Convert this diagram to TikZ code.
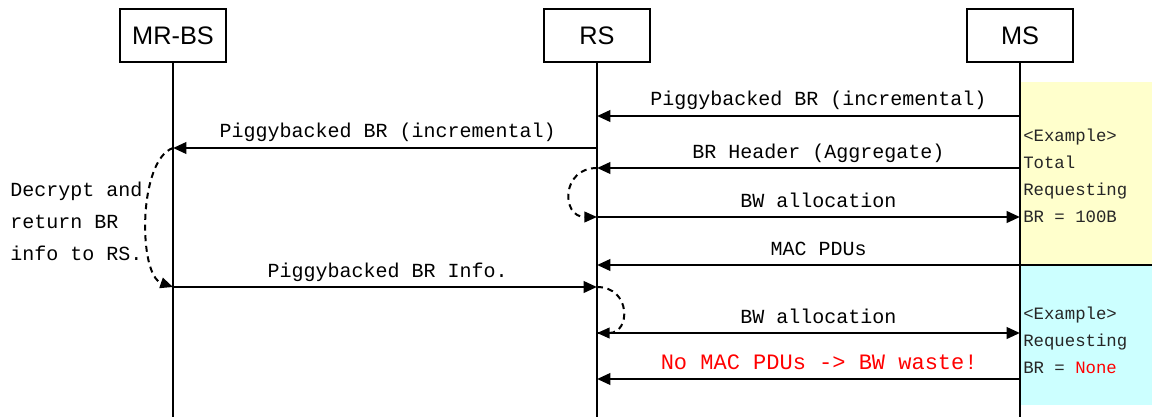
\documentclass[tikz,border=0pt]{standalone}
\usepackage{fontspec}
\newfontfamily\msgfont{Liberation Mono}
\newfontfamily\entfont{Liberation Sans}
\usetikzlibrary{arrows.meta,positioning,calc}
\definecolor{noteyellow}{RGB}{255,255,204}
\definecolor{notecyan}{RGB}{204,255,255}
\tikzset{>=Stealth,
  entity/.style={draw,line width=0.8pt,minimum width=79.5pt,minimum height=39.75pt,
    inner sep=0pt,font=\entfont\fontsize{19}{22}\selectfont},
  life/.style={line width=1.1pt},
  msg/.style={line width=2.1pt,-{Triangle[length=10pt,width=8.5pt]}},
  loopback/.style={line width=1.5pt,dash pattern=on 4.5pt off 3.5pt,
    -{Triangle[length=9.5pt,width=8pt]}},
  lbl/.style={anchor=base,yshift=7.5pt,inner sep=0pt,
    font=\msgfont\fontsize{15}{18}\selectfont},
  side/.style={anchor=base west,inner sep=0pt,align=left,text=black!85,
    font=\msgfont\fontsize{13}{20.25}\selectfont}}

\begin{document}
\begin{tikzpicture}[x=0.75pt,y=-0.75pt]
\useasboundingbox (0,0) rectangle (1152,417);
% example notes on the MS side
\fill[noteyellow] (1020,82) rectangle (1152,265);
\fill[notecyan] (1020,265) rectangle (1152,405);
\draw[line width=0.8pt] (1020,265) -- (1152,265);
\node[side] (note1) at (1023,222) {<Example>\\Total\\Requesting\\BR = 100B};
\node[side] (note2) at (1023,373) {<Example>\\Requesting\\BR = {\color{red}None}};

% entities and lifelines
\node[entity] (mrbs) at (173,35.5) {MR-BS};
\node[entity] (rs) at (597,35.5) {RS};
\node[entity] (ms) at (1020,35.5) {MS};
\foreach \e in {mrbs,rs,ms}
  \draw[life] (\e.south) -- (\e.south |- 0,417);

\foreach \n/\yy in {1/116,2/148,3/168,4/217,5/265,6/287,7/333,8/379}{
  \coordinate (mrbs\n) at (mrbs.south |- 0,\yy);
  \coordinate (rs\n) at (rs.south |- 0,\yy);
  \coordinate (ms\n) at (ms.south |- 0,\yy);
}

% messages
\draw[msg] (ms1) -- node[lbl,xshift=7.5pt] {Piggybacked BR (incremental)} (rs1);
\draw[msg] (rs2) -- node[lbl,xshift=2pt] {Piggybacked BR (incremental)} (mrbs2);
\draw[msg] (ms3) -- node[lbl,xshift=7.5pt] {BR Header (Aggregate)} (rs3);
\draw[msg] (rs4) -- node[lbl,xshift=7.5pt] {BW allocation} (ms4);
\draw[msg] (ms5) -- node[lbl,xshift=7.5pt] {MAC PDUs} (rs5);
\draw[msg] (mrbs6) -- node[lbl,xshift=2pt] {Piggybacked BR Info.} (rs6);
\draw[msg] (rs7) -- node[lbl,xshift=7.5pt] {BW allocation} (ms7);
\draw[msg] (ms8) -- node[lbl,xshift=8pt,text=red,
  font=\msgfont\fontsize{16.5}{18}\selectfont] {No MAC PDUs -> BW waste!} (rs8);

% processing loops
\draw[loopback] (mrbs2) .. controls (138,160) and (138,275) .. (mrbs6);
\draw[loopback] (rs3) .. controls (561,168) and (561,217) .. (rs4);
\draw[loopback] (rs6) .. controls (631,287) and (631,333) .. (rs7);
\node[anchor=base west,inner sep=0pt,align=left,
  font=\msgfont\fontsize{15}{24}\selectfont] (decrypt) at (10,260)
  {Decrypt and\\return BR\\info to RS.};
\end{tikzpicture}
\end{document}
